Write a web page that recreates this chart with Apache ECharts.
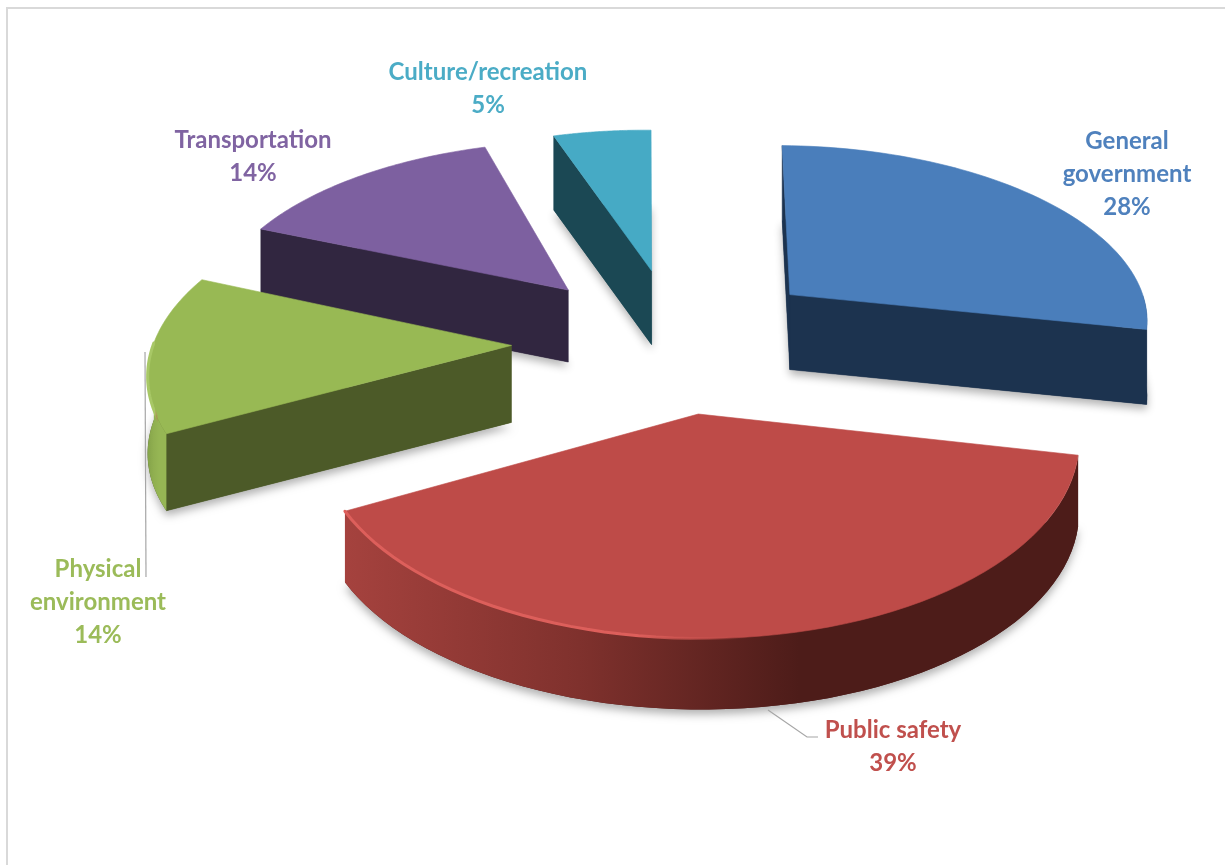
<!DOCTYPE html>
<html><head><meta charset="utf-8">
<style>html,body{margin:0;padding:0;background:#fff}#c{width:1225px;height:865px}</style>
<script src="https://cdn.jsdelivr.net/npm/echarts@6/dist/echarts.min.js"></script>
</head><body><div id="c"></div>
<script>
const categories = ['General government','Public safety','Physical environment','Transportation','Culture/recreation'];
const labelLines = [['General','government'],['Public safety'],['Physical','environment'],['Transportation'],['Culture/recreation']];
const values = [28,39,14,14,5];
const topColors = ['#4a7ebb','#be4b48','#98b954','#7d60a0','#46aac5'];
const wallColors = ['#1c334f','#4f1d1b','#4c5a28','#312640','#1b4854'];
const outerStops = [['#1c334f','#1c334f','#1c334f'],['#a5423e','#7f312d','#4d1c19'],['#84a349','#90af50','#96b654'],['#312640','#312640','#312640'],['#1b4854','#1b4854','#1b4854']];
const rimColors = [null,'#dd5f5b','#a8c866',null,null];
const textColors = ['#4f81bd','#c0504d','#9bbb59','#8064a2','#4bacc6'];
const explode = [0.46,0.40,0.42,0.40,0.40];
const radiusScaleX = [1,0.985,0.98,1,1];
const wallHeight = [75,71,77,72,74];
const nudge = [[-2,3],[12,-1],[0,1],[-2,0],[-2,2]];
const apexShift = [[0,0],[0,0],[0,0],[0,0],[8,-5]];
const labelAt = [[1127,141],[893,730],[98,569],[253,140],[488,72]];
const START = -89, CX = 665, CY = 341, RX = 365, RY = 178, P = 0.12;

const total = values.reduce((a,b)=>a+b,0);
const spans = [];
values.reduce((s,v)=>{const e=s+v/total*360;spans.push([s,e]);return e;},START);
const rad = d=>d*Math.PI/180;
const order = values.map((_,i)=>i).sort((a,b)=>
  Math.sin(rad((spans[a][0]+spans[a][1])/2))-Math.sin(rad((spans[b][0]+spans[b][1])/2)));

function project(i,X,Y,drop){
  const w=1-P*Y;
  return [CX+RX*X/w+nudge[i][0], CY+RY*Y/w+nudge[i][1]+(drop||0)];
}
function renderSlice(params,api){
  const i=api.value(0), v=api.value(1), H=wallHeight[i], r=radiusScaleX[i];
  const a0=spans[i][0], a1=a0+v/total*360, mid=rad((a0+a1)/2);
  const ox=Math.cos(mid)*explode[i], oy=Math.sin(mid)*explode[i];
  const arc=[];
  for(let k=0;k<=60;k++){const t=rad(a0+(a1-a0)*k/60);arc.push([ox+r*Math.cos(t),oy+Math.sin(t)]);}
  const ap=project(i,ox,oy,0);
  const apexTop=[ap[0]+apexShift[i][0],ap[1]+apexShift[i][1]], apexBot=[apexTop[0],apexTop[1]+H];
  const top=arc.map(p=>project(i,p[0],p[1],0)), bot=arc.map(p=>project(i,p[0],p[1],H));
  const kids=[];
  const poly=(points,fill,extra)=>kids.push({type:'polygon',shape:{points},style:Object.assign({fill},extra||{})});
  poly([apexBot].concat(bot),wallColors[i],{shadowBlur:9,shadowColor:'rgba(0,0,0,0.30)',shadowOffsetY:5});
  const area=pts=>{let s=0;pts.forEach((p,j)=>{const q=pts[(j+1)%pts.length];s+=p[0]*q[1]-q[0]*p[1];});return s;};
  [[apexTop,top[0],bot[0],apexBot],[top[60],apexTop,apexBot,bot[60]]].forEach(f=>{
    if(area(f)<0) poly(f,wallColors[i],{stroke:wallColors[i],lineWidth:0.5});
  });
  let vis=[];
  for(let k=0;k<=60;k++){ if(Math.sin(rad(a0+(a1-a0)*k/60))>-0.02) vis.push(k); }
  if(vis.length>1){
    const up=vis.map(k=>top[k]), dn=vis.map(k=>bot[k]).reverse();
    poly(up.concat(dn),{type:'linear',x:0,y:0,x2:1,y2:0,colorStops:[
      {offset:0,color:outerStops[i][0]},{offset:0.32,color:outerStops[i][1]},{offset:0.62,color:outerStops[i][2]},{offset:1,color:outerStops[i][2]}]});
  }
  poly([apexTop].concat(top),topColors[i],{stroke:topColors[i],lineWidth:0.6});
  if(rimColors[i] && vis.length>1){
    kids.push({type:'polyline',shape:{points:vis.map(k=>top[k])},style:{fill:null,lineWidth:3,lineCap:'round',
      stroke:{type:'linear',x:0,y:0,x2:1,y2:0,colorStops:[{offset:0,color:rimColors[i]},{offset:0.4,color:rimColors[i]},{offset:0.55,color:'rgba(200,80,76,0)'},{offset:1,color:'rgba(200,80,76,0)'}]}}});
  }
  return {type:'group',children:kids};
}
const chart=echarts.init(document.getElementById('c'),null,{renderer:'canvas'});
const graphics=[
  {type:'polyline',shape:{points:[[7,865],[7,8],[1225,8]]},style:{fill:null,stroke:'#d9d9d9',lineWidth:2},silent:true},
  {type:'polyline',shape:{points:[[145,352],[146,577]]},style:{fill:null,stroke:'#a6a6a6',lineWidth:1.2},silent:true,z:5},
  {type:'polyline',shape:{points:[[768,710],[807,737],[818,737]]},style:{fill:null,stroke:'#a6a6a6',lineWidth:1.2},silent:true,z:5}
];
categories.forEach((c,i)=>{
  const lines=labelLines[i].concat([Math.round(values[i]/total*100)+'%']);
  lines.forEach((t,j)=>graphics.push({type:'text',z:6,silent:true,x:labelAt[i][0],y:labelAt[i][1]+j*33,
    style:{text:t,fill:textColors[i],font:'bold 24px Lato, "Open Sans", sans-serif',textAlign:'center',textVerticalAlign:'middle'}}));
});
chart.setOption({
  animation:false,
  backgroundColor:'#fff',
  graphic:graphics,
  series:[{type:'custom',coordinateSystem:'none',renderItem:renderSlice,clip:false,silent:true,
    encode:{itemName:2},
    data:order.map(i=>[i,values[i],categories[i]])}]
});
</script></body></html>
